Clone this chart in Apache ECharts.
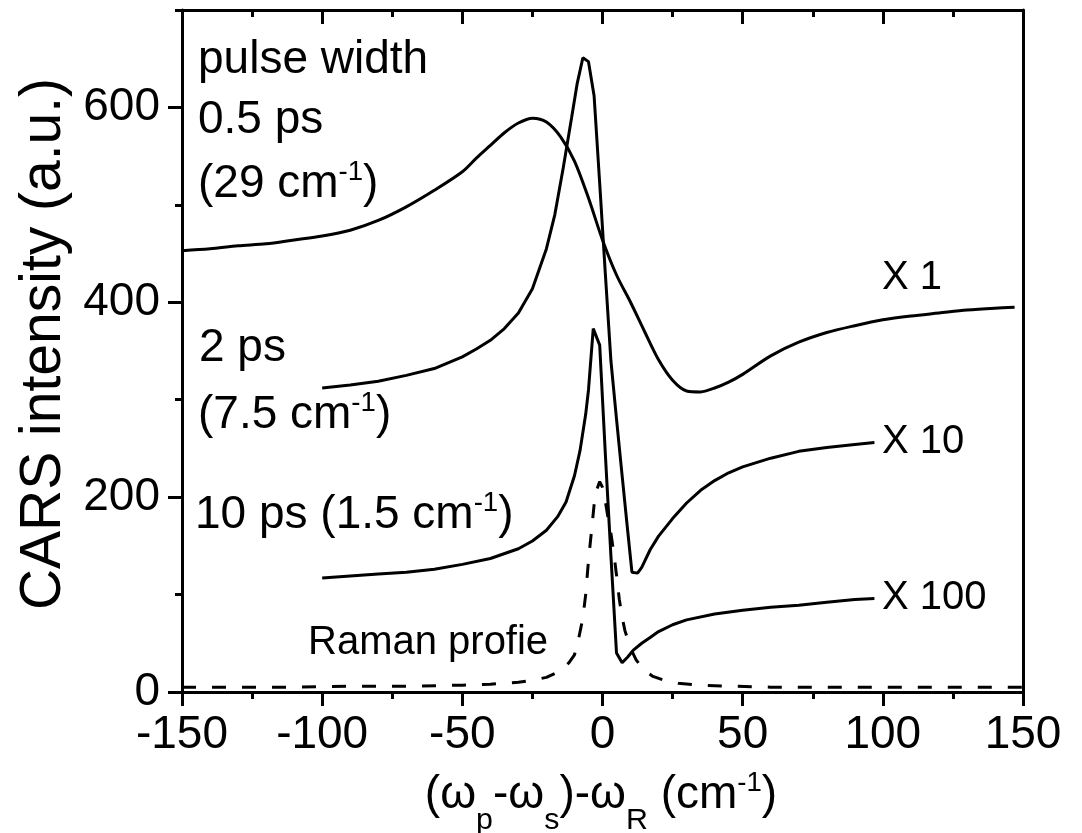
<!DOCTYPE html>
<html><head><meta charset="utf-8">
<script src="https://cdn.jsdelivr.net/npm/echarts@6.0.0/dist/echarts.min.js"></script>
<style>html,body{margin:0;padding:0;background:#fff}#c{width:1082px;height:833px}</style>
</head><body><div id="c"></div>
<script>
const FONT = 'Liberation Sans, Arial, Helvetica, sans-serif';

// 0.5 ps pulse (x1)
const p05X = [-150,-140,-130,-120,-110,-100,-90,-80,-70,-60,-50,-45,-40,-35,-30,-25,-20,-15,-10,-5,0,5,10,15,20,25,30,35,40,45,50,60,70,80,90,100,110,120,130,140,147];
const p05Y = [453,455,458,460,464,468,474,484,498,515,534,548,561,574,584,589,585,570,545,507,464,428,400,370,341,320,309,308,312,318,326,345,359,369,376,382,386,389,392,394,395];

// 2 ps pulse (x10)
const p2X = [-100,-90,-80,-70,-60,-50,-45,-40,-35,-30,-25,-20,-17,-14,-11,-9,-7,-5,-3,-1,1,3,5,7,9,10.5,12.5,14,17,20,25,30,35,40,45,50,60,70,80,90,97];
const p2Y = [312,315,319,325,332,344,352,361,373,389,414,455,490,538,590,625,651,647,612,522,430,340,280,222,165,123,122,128,146,160,178,194,207,217,225,231,240,247,251,254,256];

// 10 ps pulse (x100)
const p10X = [-100,-90,-80,-70,-60,-50,-40,-30,-25,-20,-16,-13,-10,-8,-6,-5,-3.3,-1,1,3,5,7,9,11,14,17,20,25,30,40,50,60,70,80,90,97];
const p10Y = [117,119,121,123,126,131,137,147,155,166,180,195,222,248,285,310,373,356,245,140,40,30,36,43,50,56,62,69,74,80,84,87,89,92,95,96];

// Raman profile (dashed)
const ramanX = [-150,-130,-110,-90,-70,-50,-40,-30,-25,-20,-17,-14,-12,-10,-8.5,-7,-6,-5,-4,-3,-2,-1,0,1,2,3,4,5,6,7,8,10,12,15,18,22,27,35,45,60,80,100,125,150];
const ramanY = [5,5,5,6,6,7,8,10,12,15,19,24,30,38,55,76,100,135,163,192,208,216,210,196,178,163,143,120,95,77,63,45,33,22,16,12,9,7,6,5,5,5,5,5];

// ticks
const xMin = -150, xMax = 150, xStep = 50;
const yMin = 0, yMax = 700;
const yMajorTicks = [0,200,400,600];
const yMinorTicks = [100,300,500,700];

const pairs = (xs, ys) => xs.map((x, i) => [x, ys[i]]);

const chart = echarts.init(document.getElementById('c'), null, {renderer: 'canvas'});
const axisLineStyle = {color: '#000', width: 3};

// text composed of normal / superscript / subscript pieces
const mctx = document.createElement('canvas').getContext('2d');
function measure(t, size) { mctx.font = size + 'px ' + FONT; return mctx.measureText(t).width; }
function compose(parts, x, baseline, F, align) {
  const items = parts.map(p => {
    const k = p[1] || 'm';
    const size = k === 'm' ? F : (k === 'sup' ? 0.6 * F : 0.66 * F);
    const b = k === 'm' ? baseline : (k === 'sup' ? baseline - 0.4 * F : baseline + 0.42 * F);
    return {t: p[0], size: size, b: b, w: measure(p[0], size)};
  });
  const total = items.reduce((s, it) => s + it.w, 0);
  let cx = align === 'center' ? x - total / 2 : x;
  return items.map(it => {
    const el = {type: 'text', x: cx, y: it.b - 0.358 * it.size, z: 100,
      style: {text: it.t, fill: '#000', fontSize: it.size, fontFamily: FONT, align: 'left', verticalAlign: 'middle'}};
    cx += it.w;
    return el;
  });
}

const texts = [].concat(
  compose([['pulse width']], 198, 77, 46),
  compose([['0.5 ps']], 198, 137, 46),
  compose([['(29 cm'], ['-1', 'sup'], [')']], 198, 201, 46),
  compose([['2 ps']], 199, 365, 46),
  compose([['(7.5 cm'], ['-1', 'sup'], [')']], 198, 432, 46),
  compose([['10 ps (1.5 cm'], ['-1', 'sup'], [')']], 195, 532, 46),
  compose([['Raman profie']], 308, 657, 40),
  compose([['X 1']], 882, 292, 40),
  compose([['X 10']], 882, 456, 40),
  compose([['X 100']], 882, 612, 40),
  compose([['(ω'], ['p', 'sub'], ['-ω'], ['s', 'sub'], [')-ω'], ['R', 'sub'], [' (cm'], ['-1', 'sup'], [')']], 601, 812, 46, 'center')
);
texts.push({type: 'text', x: 44, y: 344, rotation: Math.PI / 2, z: 100,
  style: {text: 'CARS intensity (a.u.)', fill: '#000', fontSize: 57, fontFamily: FONT,
          align: 'center', verticalAlign: 'middle'}});

const option = {
  animation: false,
  backgroundColor: '#fff',
  grid: {left: 182, right: 59, top: 10, bottom: 141, containLabel: false},
  xAxis: [
    {type: 'value', min: xMin, max: xMax, interval: xStep, position: 'bottom',
     axisLine: {show: true, onZero: false, lineStyle: axisLineStyle},
     axisTick: {show: true, length: 14, lineStyle: axisLineStyle},
     minorTick: {show: true, splitNumber: 2, length: 7, lineStyle: axisLineStyle},
     axisLabel: {fontSize: 46, color: '#000', fontFamily: FONT, margin: 20},
     splitLine: {show: false}, minorSplitLine: {show: false}},
    {type: 'value', min: xMin, max: xMax, interval: xStep, position: 'top',
     axisLine: {show: true, onZero: false, lineStyle: axisLineStyle},
     axisTick: {show: true, inside: true, length: 14, lineStyle: axisLineStyle},
     minorTick: {show: true, splitNumber: 2, length: 7, lineStyle: axisLineStyle},
     axisLabel: {show: false}, splitLine: {show: false}}
  ],
  yAxis: [
    {type: 'value', min: yMin, max: yMax, interval: 100, position: 'left',
     axisLine: {show: true, onZero: false, lineStyle: axisLineStyle},
     axisTick: {show: true, length: 14, lineStyle: axisLineStyle, customValues: yMajorTicks},
     axisLabel: {fontSize: 46, color: '#000', fontFamily: FONT, margin: 22, customValues: yMajorTicks},
     splitLine: {show: false}},
    {type: 'value', min: yMin, max: yMax, interval: 100, position: 'left',
     axisLine: {show: false, onZero: false},
     axisTick: {show: true, length: 7, lineStyle: axisLineStyle, customValues: yMinorTicks},
     axisLabel: {show: false}, splitLine: {show: false}},
    {type: 'value', min: yMin, max: yMax, interval: 100, position: 'right',
     axisLine: {show: true, onZero: false, lineStyle: axisLineStyle},
     axisTick: {show: false}, axisLabel: {show: false}, splitLine: {show: false}}
  ],
  series: [
    {name: '0.5 ps', type: 'line', data: pairs(p05X, p05Y), showSymbol: false, symbol: 'none',
     smooth: 0.3, lineStyle: {color: '#000', width: 3}},
    {name: '2 ps', type: 'line', data: pairs(p2X, p2Y), showSymbol: false, symbol: 'none',
     lineStyle: {color: '#000', width: 3}},
    {name: '10 ps', type: 'line', data: pairs(p10X, p10Y), showSymbol: false, symbol: 'none',
     lineStyle: {color: '#000', width: 3}},
    {name: 'Raman profile', type: 'line', data: pairs(ramanX, ramanY), showSymbol: false, symbol: 'none',
     lineStyle: {color: '#000', width: 3, type: [14, 16]}}
  ],
  graphic: texts
};
chart.setOption(option);
</script>
</body></html>
